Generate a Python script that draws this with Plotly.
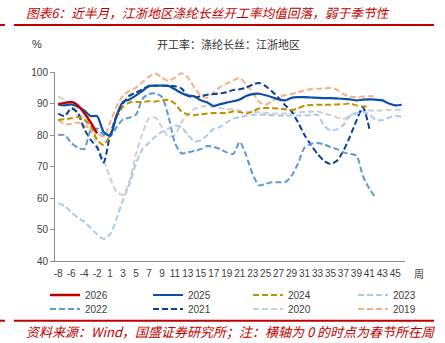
import plotly.graph_objects as go

# ---- data -------------------------------------------------------------
# week offsets relative to the Spring Festival
weeks = [str(w) for w in list(range(-8, 0)) + list(range(1, 47))]
festival_week = "-1"

rate_2026 = [89.8, 90.2, 90.5, 89.5, 87.0, 84.0, 80.5]

rate_2025 = [89.6, 89.4, 89.7, 89.0, 87.8, 86.0, 86.0, 81.0, 79.8, 86.2,
             90.5, 91.3, 92.6, 94.0, 95.6, 95.7, 95.7, 95.6, 94.5, 93.3,
             92.5, 92.3, 91.0, 90.3, 89.2, 89.8, 90.3, 90.7, 91.3, 92.4,
             93.0, 93.1, 92.6, 92.0, 91.3, 91.0, 91.8, 92.0, 92.0, 91.9,
             91.8, 91.7, 91.7, 91.6, 91.5, 91.3, 91.0, 91.2, 91.3, 91.2,
             91.0, 90.0, 89.4, 89.6]

rate_2024 = [84.8, 85.0, 85.3, 85.8, 85.0, 83.0, 78.5, 76.8, 80.0, 85.5,
             89.0, 90.3, 90.5, 90.5, 90.7, 90.6, 91.0, 91.2, 90.0, 87.5,
             86.5, 86.3, 86.6, 86.8, 87.0, 87.0, 87.0, 87.5, 87.3, 86.8,
             87.5, 88.4, 88.6, 88.5, 88.4, 88.2, 87.9, 88.5, 89.3, 89.5,
             89.6, 89.6, 89.6, 89.7, 89.8, 90.0, 89.4, 89.1, 89.1]

rate_2023 = [58.3, 57.5, 55.5, 53.8, 52.5, 50.5, 48.5, 47.0, 48.5, 53.5,
             59.5, 64.5, 71.0, 75.5, 77.5, 79.5, 81.0, 82.0, 83.0, 82.5,
             80.0, 78.0, 78.3, 80.0, 82.0, 82.6, 84.0, 85.2, 85.7, 86.1,
             86.4, 86.5, 86.4, 86.3, 86.2, 86.2, 86.2, 86.2, 86.2, 86.3,
             86.4, 83.0, 81.5, 81.8, 83.2, 86.0, 86.8, 87.2, 86.5, 84.8,
             84.7, 85.5, 86.1, 85.7]

rate_2022 = [80.0, 80.0, 77.5, 76.0, 75.5, 81.5, 82.0, 80.0, 79.5, 82.5,
             85.0, 85.5, 86.5, 91.5, 93.0, 93.2, 92.0, 86.0, 77.5, 74.2,
             74.5, 75.0, 75.5, 76.5, 76.2, 75.5, 74.5, 74.0, 77.8, 73.5,
             67.5, 64.0, 64.5, 65.0, 65.0, 65.0, 67.0, 71.0, 76.0, 77.2,
             77.5, 77.0, 76.2, 75.5, 74.5, 74.0, 73.5, 67.0, 63.0, 60.0]

rate_2021 = [86.8, 86.0, 88.5, 87.0, 82.0, 78.5, 76.0, 71.3, 80.0, 86.0,
             90.0, 92.5, 93.5, 94.5, 95.5, 95.6, 95.6, 95.6, 95.5, 94.8,
             92.5, 92.0, 92.3, 92.8, 93.0, 93.2, 93.6, 94.3, 94.5, 95.0,
             96.0, 96.5, 95.5, 93.8, 91.8, 89.5, 87.5, 84.0, 80.0, 76.8,
             74.0, 71.8, 70.8, 71.8, 75.0, 79.5, 84.5, 88.8, 82.0]

rate_2020 = [92.3, 91.0, 89.0, 87.3, 85.0, 81.5, 77.0, 72.0, 66.5, 62.0,
             61.0, 65.5, 74.0, 80.5, 85.3, 85.5, 82.5, 79.5, 80.0, 84.0,
             86.5, 88.2, 89.0, 89.2, 88.8, 88.5, 88.3, 88.0, 87.8, 87.4,
             87.3, 87.2, 87.0, 86.8, 86.8, 86.8, 87.0, 87.2, 87.3, 87.4,
             87.5, 86.9, 86.3, 85.6, 85.0, 86.2, 87.2, 87.7, 87.8, 87.8,
             87.8, 87.9, 88.0, 88.0]

rate_2019 = [84.8, 83.5, 83.5, 84.0, 83.0, 82.0, 80.5, 79.5, 84.0, 89.0,
             92.5, 94.0, 95.0, 96.8, 98.5, 99.5, 98.2, 97.2, 98.2, 99.6,
             98.3, 95.0, 92.5, 91.8, 93.6, 95.3, 96.4, 97.3, 98.1, 96.0,
             93.5, 90.5, 89.6, 90.8, 92.0, 92.6, 93.0, 93.5, 94.2, 94.5,
             94.7, 94.8, 94.9, 94.4, 93.0, 92.2, 92.0, 92.2, 92.3, 92.3]

y_ticks = [40, 50, 60, 70, 80, 90, 100]

# ---- styling ----------------------------------------------------------
W, H = 445, 343
ML, MR, MT, MB = 55, 40, 72, 82
PW, PH = W - ML - MR, H - MT - MB


def px(x):
    return (x - ML) / PW


def py(y):
    return (H - MB - y) / PH


DASH = "6px,3px"
RED = "#C00000"

# legend grid: four columns, two rows
COLS = [45, 148, 248, 353]
ROWS = [295, 309]

# (name, values, colour, dash, width, legend column, legend row)
series = [
    # drawn bottom to top
    ("2019", rate_2019, "#F4B183", DASH, 2.0, 3, 1),
    ("2020", rate_2020, "#CFCFCF", DASH, 2.0, 2, 1),
    ("2021", rate_2021, "#0A3F96", DASH, 2.0, 1, 1),
    ("2022", rate_2022, "#5B9BD5", DASH, 2.0, 0, 1),
    ("2023", rate_2023, "#A9CBEA", DASH, 2.0, 3, 0),
    ("2024", rate_2024, "#BF9000", DASH, 2.0, 2, 0),
    ("2025", rate_2025, "#0D4EA6", "solid", 2.2, 1, 0),
    ("2026", rate_2026, "#C00000", "solid", 2.4, 0, 0),
]

tick_font = dict(family="Liberation Sans, Arial, sans-serif", size=10, color="#404040")
cjk = "Noto Sans CJK SC, sans-serif"

fig = go.Figure()
legends = {}
for i, (name, vals, color, dash, width, col, row) in enumerate(series):
    key = "legend" if i == 0 else f"legend{i + 1}"
    fig.add_trace(go.Scatter(
        x=weeks[:len(vals)], y=vals, name=name, mode="lines",
        line=dict(color=color, dash=dash, width=width, shape="spline", smoothing=0.7),
        legend=key, hoverinfo="skip",
    ))
    legends[key] = dict(
        orientation="h", xanchor="left", yanchor="middle",
        x=px(COLS[col]), y=py(ROWS[row]), itemwidth=30,
        font=tick_font, bgcolor="rgba(0,0,0,0)", borderwidth=0,
    )

fig.update_layout(
    width=W, height=H,
    margin=dict(l=ML, r=MR, t=MT, b=MB, autoexpand=False),
    paper_bgcolor="white", plot_bgcolor="white",
    showlegend=True,
    xaxis=dict(
        type="category", categoryorder="array", categoryarray=weeks,
        range=[-0.5, len(weeks) - 0.5],
        tickmode="array", tickvals=weeks[::2], ticktext=weeks[::2],
        tickangle=0, tickfont=tick_font,
        showline=True, linecolor="#8C8C8C", linewidth=1,
        ticks="outside", ticklen=3, tickcolor="rgba(0,0,0,0)",
        showgrid=False, zeroline=False,
    ),
    yaxis=dict(
        range=[40, 100], tickmode="array", tickvals=y_ticks,
        tickfont=tick_font,
        showline=True, linecolor="#8C8C8C", linewidth=1,
        ticks="outside", ticklen=4, tickcolor="#8C8C8C",
        showgrid=False, zeroline=False,
    ),
    **legends,
)

# Spring Festival marker
fig.add_shape(type="line", xref="x", yref="paper",
              x0=festival_week, x1=festival_week,
              y0=(43.5 - 40) / 60, y1=(102 - 40) / 60,
              line=dict(color="#FF0000", width=1.6, dash="5px,2px"), layer="above")

# red rules above the chart and above the source line
for yy in (25, 320.7):
    fig.add_shape(type="line", xref="paper", yref="paper",
                  x0=px(14), x1=px(434), y0=py(yy), y1=py(yy),
                  line=dict(color=RED, width=2))
    fig.add_shape(type="line", xref="paper", yref="paper",
                  x0=px(0), x1=px(5), y0=py(yy), y1=py(yy),
                  line=dict(color=RED, width=2))

annotations = [
    dict(text="图表6：近半月，江浙地区涤纶长丝开工率均值回落，弱于季节性",
         x=px(24), y=py(12.5), xanchor="left", yanchor="middle",
         font=dict(family=cjk, size=12.7, color=RED, style="italic")),
    dict(text="开工率：涤纶长丝：江浙地区",
         x=px(228), y=py(44), xanchor="center", yanchor="middle",
         font=dict(family=cjk, size=11, color="#303030")),
    dict(text="%", x=px(37), y=py(44), xanchor="center", yanchor="middle",
         font=dict(family="Liberation Sans, Arial, sans-serif", size=11, color="#303030")),
    dict(text="周", x=px(419), y=py(273), xanchor="center", yanchor="middle",
         font=dict(family=cjk, size=10, color="#404040")),
    dict(text="资料来源：Wind，国盛证券研究所；注：横轴为 0 的时点为春节所在周",
         x=px(24), y=py(331), xanchor="left", yanchor="middle",
         font=dict(family=cjk, size=13, color=RED, style="italic")),
]
for a in annotations:
    fig.add_annotation(xref="paper", yref="paper", showarrow=False, **a)

fig.write_html("out.html")
